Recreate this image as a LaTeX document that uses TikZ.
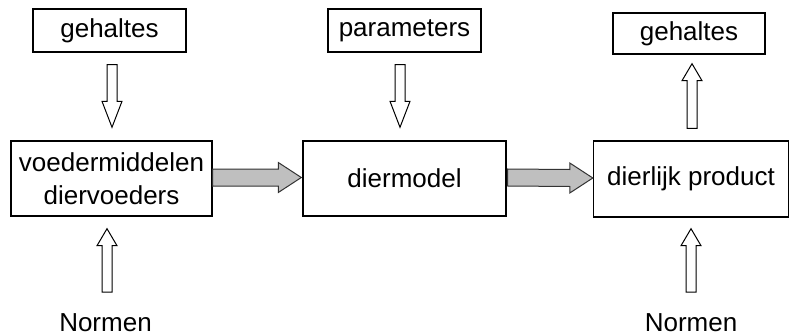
\documentclass[tikz,border=0pt]{standalone}
\usepackage{fontspec}
\setmainfont{Liberation Sans}
\usetikzlibrary{calc}
\tikzset{
  box/.style={draw=black, line width=1.4pt, inner sep=0pt, align=center,
    font=\fontsize{26}{33}\selectfont},
  lbl/.style={inner sep=0pt, font=\fontsize{26}{33}\selectfont},
  hollow/.style={draw=black, line width=1pt, fill=white, line join=miter},
  greyarrow/.style={draw=black!80, line width=1pt, fill=black!25, line join=miter},
}
% vertical block arrow: #1 style, #2 tail, #3 tip, #4 signed head length (tip to head base)
\newcommand{\vblockarrow}[4]{%
  \draw[#1] ($(#2)+(-5,0)$) -- ($(#3)+(-5,#4)$) -- ($(#3)+(-10,#4)$) -- (#3)
    -- ($(#3)+(10,#4)$) -- ($(#3)+(5,#4)$) -- ($(#2)+(5,0)$) -- cycle;}
% horizontal block arrow: #1 style, #2 tail, #3 tip
\newcommand{\hblockarrow}[3]{%
  \draw[#1] ($(#2)+(0,8.5)$) -- ($(#3)+(-23,8.5)$) -- ($(#3)+(-23,15)$) -- (#3)
    -- ($(#3)+(-23,-15)$) -- ($(#3)+(-23,-8.5)$) -- ($(#2)+(0,-8.5)$) -- cycle;}
\begin{document}
\begin{tikzpicture}[x=1pt,y=1pt]
\useasboundingbox (0,0) rectangle (791,335);
% boxes
\node[box, minimum width=153pt, minimum height=43pt] (gA) at (109.5,304.5) {gehaltes};
\node[box, minimum width=201pt, minimum height=75pt] (vd) at (111.5,156.5) {voedermiddelen\\diervoeders};
\node[box, minimum width=153pt, minimum height=43pt] (par) at (404.5,304.5) {parameters};
\node[box, minimum width=203pt, minimum height=75pt] (dm) at (404.5,156.5) {diermodel};
\node[box, minimum width=152pt, minimum height=41pt] (gB) at (689,301.5) {gehaltes};
\node[box, minimum width=195pt, minimum height=76pt] (dp) at (691,156) {dierlijk product};
% bottom labels
\node[lbl, anchor=base] (nA) at (105.5,4) {Normen};
\node[lbl, anchor=base] (nB) at (691,4) {Normen};
% arrow end points
\coordinate (a1t) at ($(gA.south)+(2.5,-12)$);
\coordinate (a1h) at ($(vd.north)+(0.5,13)$);
\coordinate (a2t) at ($(par.south)+(-4.5,-12)$);
\coordinate (a2h) at ($(dm.north)+(-4.5,13)$);
\coordinate (a3t) at ($(nA.base)+(1.5,39)$);
\coordinate (a3h) at ($(vd.south)+(-4.5,-12)$);
\coordinate (a4t) at ($(dp.north)+(1,12)$);
\coordinate (a4h) at ($(gB.south)+(3,-9)$);
\coordinate (a5t) at ($(nB.base)+(0,39)$);
\coordinate (a5h) at ($(dp.south)+(0,-11)$);
\coordinate (g1t) at ($(vd.east)+(0,1)$);
\coordinate (g1h) at ($(dm.west)+(-1,1)$);
\coordinate (g2t) at ($(dm.east)+(1,1)$);
\coordinate (g2h) at ($(dp.west)+(0,1)$);
% hollow arrows
\vblockarrow{hollow}{a1t}{a1h}{26}
\vblockarrow{hollow}{a2t}{a2h}{26}
\vblockarrow{hollow}{a3t}{a3h}{-17}
\vblockarrow{hollow}{a4t}{a4h}{-17}
\vblockarrow{hollow}{a5t}{a5h}{-17}
% grey arrows
\hblockarrow{greyarrow}{g1t}{g1h}
\hblockarrow{greyarrow}{g2t}{g2h}
\end{tikzpicture}
\end{document}
